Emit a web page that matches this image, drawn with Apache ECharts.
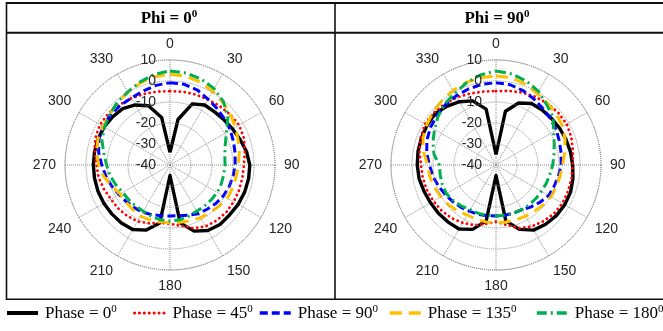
<!DOCTYPE html>
<html><head><meta charset="utf-8">
<script src="https://cdn.jsdelivr.net/npm/echarts@6/dist/echarts.min.js"></script>
<style>html,body{margin:0;padding:0;background:#fff}#c{width:663px;height:331px}</style>
</head><body><div id="c"></div>
<script>
// ---- data ----
const angles = [0,10,20,30,40,50,60,70,80,90,100,110,120,130,140,150,160,170,180,190,200,210,220,230,240,250,260,270,280,290,300,310,320,330,340,350];
const angleTicks = [0,30,60,90,120,150,180,210,240,270,300,330];
const radiusTicks = [-40,-30,-20,-10,0,10];
const panelPhi = ['0','90'];
const phaseNames = ['0','45','90','135','180'];

// Phi = 0
const phi0_phase0   = [-34,-18,-9,-7,-7,-6.5,-5.6,-4.5,-3,-2,-2,-2.2,-2.5,-3,-3,-4,-6.5,-12,-35,-12,-7,-4.5,-4,-3.8,-3.6,-3.5,-3.5,-3.5,-3.5,-3.6,-3.8,-4.3,-5,-7,-10,-17];
const phi0_phase45  = [-4.8,-4.6,-4.3,-4,-3.3,-2.6,-2,-2.5,-3.8,-4.8,-5,-5,-5,-5,-5.5,-6.2,-8,-10.5,-12,-12,-10.5,-9,-8.3,-7.8,-7.5,-6.5,-5.5,-5,-3.5,-2.2,-1.5,-1.8,-2.5,-3.3,-4,-4.5];
const phi0_phase90  = [-0.8,-1,-2,-3.8,-5,-6,-6.8,-7.8,-8.5,-9,-9.5,-10,-10.6,-11.5,-12.5,-13.2,-14.5,-15.5,-15.7,-15.5,-14.8,-14,-13.5,-12.8,-12,-10.5,-9,-7.5,-5.5,-4,-3.2,-3,-3,-3.2,-2.5,-1.5];
const phi0_phase135 = [3.2,3,2,0.6,-1,-2.5,-4,-5.5,-6.5,-7.5,-8,-8.2,-8.4,-9.5,-10.5,-11,-11.8,-12.3,-12.5,-12.5,-12.2,-11.9,-12.3,-12.6,-12.5,-10.5,-8,-6,-4.5,-3.5,-3.3,-2.5,-1.2,0,1.5,2.7];
const phi0_phase180 = [4.8,4.5,3.5,2,-0.5,-4,-9,-12,-13.5,-13.8,-14,-14,-14,-14.3,-14.5,-14.6,-14,-13.5,-13.3,-13.5,-14,-14.6,-14.5,-14.3,-14,-12.5,-11,-9.8,-8,-5.5,-4,-2.5,-1,0.2,2,3.8];

// Phi = 90
const phi90_phase0   = [-35,-14,-8.6,-6.2,-5.8,-5.5,-5,-4.5,-4,-3.5,-2.8,-2.2,-2.2,-2.5,-3.2,-4.2,-7.4,-13,-35,-13,-7.4,-4.8,-4.5,-4.2,-4,-3.5,-2.8,-2.5,-2.3,-2.2,-2.1,-2.1,-3.5,-5.2,-7.5,-13];
const phi90_phase45  = [-4.8,-4.2,-3.3,-2.5,-1.8,-1.3,-1.1,-1.8,-2.8,-3.5,-3.5,-3.5,-3.5,-4,-5,-6.2,-8,-11,-13,-11.5,-9.5,-8.2,-7,-6.2,-5.6,-5,-4.6,-4.3,-3,-1.8,-1,-1.3,-2,-2.8,-3.8,-4.5];
const phi90_phase90  = [-0.8,-1.2,-2.3,-3.8,-5,-6,-6.8,-7.8,-8.5,-9,-9.8,-10.5,-11,-12.5,-14,-15.4,-15.6,-15.7,-15.7,-15.5,-15,-14.6,-13.8,-13,-12,-10.8,-9.5,-8.3,-6.5,-5,-4,-3.3,-2.5,-2,-1.5,-1];
const phi90_phase135 = [2.4,2.2,1,-0.7,-1.7,-2.5,-3.3,-5,-6.8,-8.3,-9,-9.5,-9.8,-10.6,-11.3,-11.9,-12.2,-12.4,-12.5,-12.5,-12.5,-12.5,-11.5,-10.5,-9.7,-8.8,-8,-7.5,-5,-3,-1.9,-0.8,0,1,1.8,2.2];
const phi90_phase180 = [4.8,4,2.5,0.5,-2.5,-4.5,-8.3,-10.5,-12,-13,-14,-14.5,-15,-15.2,-15.3,-15.4,-15.6,-15.7,-15.7,-15.7,-15.5,-15.4,-14.5,-13.5,-12.7,-12.8,-13,-13,-10,-8,-6.2,-4,-2,-0.6,1.5,3.5];

const panels = [
  [phi0_phase0, phi0_phase45, phi0_phase90, phi0_phase135, phi0_phase180],
  [phi90_phase0, phi90_phase45, phi90_phase90, phi90_phase135, phi90_phase180]
];

// ---- styles ----
const lineStyles = [
  {color:'#000000', width:3.4, type:'solid'},
  {color:'#ff0000', width:2.8, type:[0.1,4.8], cap:'round'},
  {color:'#0000ff', width:3, type:[8,4]},
  {color:'#ffc000', width:3, type:[12,7]},
  {color:'#00b050', width:3, type:[10,4,2,4]}
];
const legendLineWidths = [4, 3, 3.5, 3.5, 3.5];
const centers = [[170,165],[496,165]];
const R = 105;
const gridColor = '#8c8c8c';
const labelFont = {fontFamily:'Liberation Sans', fontSize:14, color:'#262626'};

const chart = echarts.init(document.getElementById('c'), null, {renderer:'canvas'});

function loop(vals){
  return angles.map((a,i)=>[vals[i], a]).concat([[vals[0], 360]]);
}

const polar = centers.map(c=>({center:c, radius:R}));
const angleAxis = centers.map((c,i)=>({
  polarIndex:i, type:'value', min:0, max:360, interval:30, startAngle:90, clockwise:true,
  axisLine:{show:true, lineStyle:{color:gridColor, width:1, type:'dotted'}},
  axisTick:{show:false},
  splitLine:{show:true, lineStyle:{color:gridColor, width:1, type:'dotted'}},
  axisLabel:Object.assign({margin:9, formatter:v=> angleTicks.indexOf(v)>=0 ? String(v) : ''}, labelFont)
}));
const radiusAxis = centers.map((c,i)=>({
  polarIndex:i, type:'value', min:radiusTicks[0], max:radiusTicks[radiusTicks.length-1], interval:10,
  axisLine:{show:false}, axisTick:{show:false},
  splitLine:{show:true, lineStyle:{color:gridColor, width:1, type:'dotted'}},
  axisLabel:Object.assign({margin:14}, labelFont),
  z:10
}));

const series = [];
panels.forEach((set,pi)=>{
  set.forEach((vals,si)=>{
    const ls = lineStyles[si];
    series.push({
      type:'line', coordinateSystem:'polar', polarIndex:pi,
      name:'Phase = ' + phaseNames[si],
      data:loop(vals), symbol:'none', silent:true, animation:false,
      lineStyle:{color:ls.color, width:ls.width, type:ls.type, cap:ls.cap||'butt', join:'round'},
      itemStyle:{color:ls.color}
    });
  });
});

const legendLeft = [5,133,258,388,535];
const legendRich = {
  a:{fontFamily:'Liberation Serif', fontSize:17, color:'#000', verticalAlign:'bottom', lineHeight:18},
  s:{fontFamily:'Liberation Serif', fontSize:11, color:'#000', verticalAlign:'top', lineHeight:18}
};
const legend = phaseNames.map((p,i)=>({
  data:['Phase = ' + p], left:legendLeft[i], top:304, padding:0, itemWidth:31, itemHeight:14, itemGap:0,
  selectedMode:false,
  itemStyle:{opacity:0},
  lineStyle:{width:legendLineWidths[i]},
  formatter: n => '{a|' + n + '}{s|0}',
  textStyle:{rich:legendRich, padding:[0,0,0,2]}
}));

const lineC = '#111';
const headRich = {
  a:{fontFamily:'Liberation Serif', fontWeight:'bold', fontSize:17, fill:'#000', verticalAlign:'bottom', lineHeight:18},
  s:{fontFamily:'Liberation Serif', fontWeight:'bold', fontSize:11, fill:'#000', verticalAlign:'top', lineHeight:18}
};
const graphic = [
  {type:'line', shape:{x1:6,y1:3,x2:663,y2:3}, style:{stroke:lineC, lineWidth:2}},
  {type:'line', shape:{x1:6,y1:32.7,x2:663,y2:32.7}, style:{stroke:lineC, lineWidth:2}},
  {type:'line', shape:{x1:6,y1:299.3,x2:663,y2:299.3}, style:{stroke:lineC, lineWidth:1.5}},
  {type:'line', shape:{x1:6.5,y1:2,x2:6.5,y2:300}, style:{stroke:lineC, lineWidth:1.6}},
  {type:'line', shape:{x1:335,y1:2,x2:335,y2:300}, style:{stroke:lineC, lineWidth:1.6}},
  {type:'text', x:169, y:18, style:{text:'{a|Phi = ' + panelPhi[0] + '}{s|0}', align:'center', verticalAlign:'middle', rich:headRich}},
  {type:'text', x:497, y:18, style:{text:'{a|Phi = ' + panelPhi[1] + '}{s|0}', align:'center', verticalAlign:'middle', rich:headRich}}
];

chart.setOption({
  animation:false,
  backgroundColor:'#ffffff',
  polar, angleAxis, radiusAxis, series, legend, graphic
});
</script>
</body></html>
